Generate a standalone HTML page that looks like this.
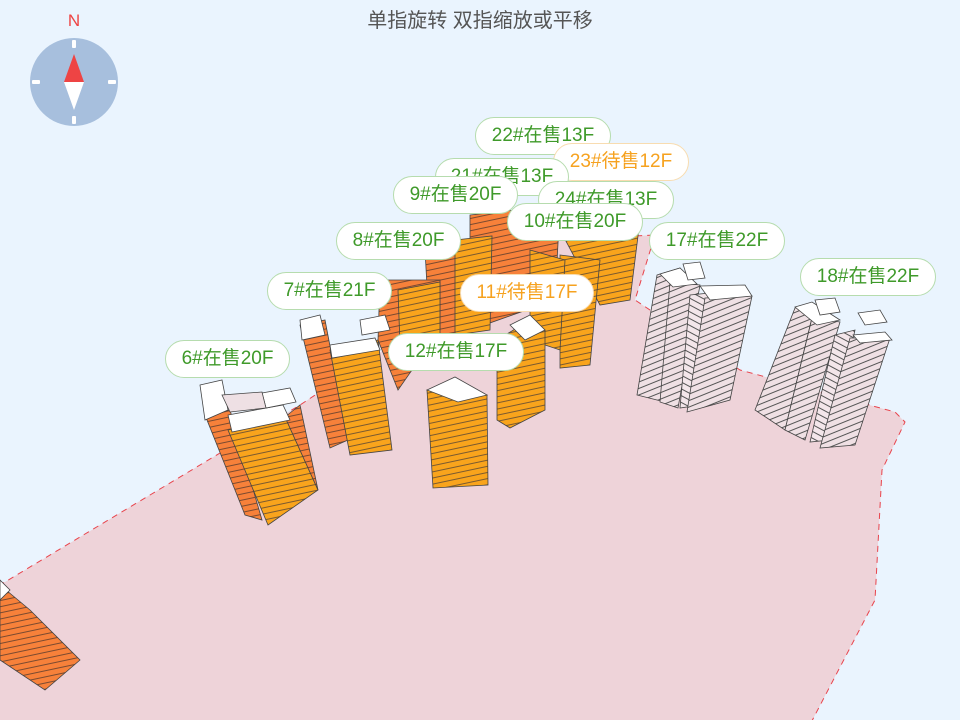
<!DOCTYPE html>
<html><head><meta charset="utf-8"><style>
html,body{margin:0;padding:0;width:960px;height:720px;overflow:hidden;background:#eaf4fe;font-family:"Liberation Sans","Noto Sans CJK SC",sans-serif}
svg{position:absolute;left:0;top:0}
.lb{position:absolute;height:36px;line-height:36px;border:1px solid #b6dcae;background:#fff;border-radius:19px;color:#3f9a2a;font-size:19px;text-align:center;white-space:nowrap}
.or{color:#f6a21f;border-color:#f8dcb0}
</style></head><body>
<svg width="960" height="720" viewBox="0 0 960 720">
<defs>
<pattern id="po" width="20" height="6" patternUnits="userSpaceOnUse" patternTransform="rotate(-12)"><rect width="20" height="6" fill="#f9a41c"/><rect y="5" width="20" height="1" fill="#7a5a30"/></pattern>
<pattern id="pr" width="20" height="6" patternUnits="userSpaceOnUse" patternTransform="rotate(-12)"><rect width="20" height="6" fill="#f7813a"/><rect y="5" width="20" height="1" fill="#7a4a30"/></pattern>
<pattern id="pw" width="20" height="6" patternUnits="userSpaceOnUse" patternTransform="rotate(-22)"><rect width="20" height="6" fill="#efe0e4"/><rect y="5" width="20" height="1" fill="#555"/></pattern>
<pattern id="pw2" width="20" height="6" patternUnits="userSpaceOnUse" patternTransform="rotate(28)"><rect width="20" height="6" fill="#f3e6ea"/><rect y="5" width="20" height="1" fill="#555"/></pattern>
</defs>
<polygon points="-20,597 300,405 550,240 655,235 635,300 740,370 895,412 905,422 882,470 875,600 802,740 -20,740" fill="#eed3d9" stroke="#e8444c" stroke-width="1" stroke-dasharray="6,5"/>
<circle cx="74" cy="82" r="44" fill="#a7bfdd"/>
<rect x="72" y="40" width="4" height="8" fill="#fff" rx="1"/><rect x="72" y="116" width="4" height="8" fill="#fff" rx="1"/>
<rect x="32" y="80" width="8" height="4" fill="#fff" rx="1"/><rect x="108" y="80" width="8" height="4" fill="#fff" rx="1"/>
<polygon points="74,54 64,82 84,82" fill="#ee4444"/><polygon points="74,110 64,82 84,82" fill="#fff"/>
<text x="74" y="26" font-size="17" fill="#ee4444" text-anchor="middle" font-family="Liberation Sans">N</text>
<text x="480" y="27" font-size="20" fill="#555" text-anchor="middle" font-family="Liberation Sans,Noto Sans CJK SC,sans-serif">单指旋转 双指缩放或平移</text>
<g stroke="#444" stroke-width="0.8">
<polygon points="0,585 30,610 80,660 45,690 0,660" fill="url(#pr)"/>
<polygon points="0,580 10,590 0,600" fill="#fff"/>
<polygon points="470,215 560,205 555,300 470,330" fill="url(#pr)"/>
<polygon points="425,250 470,240 470,330 430,340" fill="url(#pr)"/>
<polygon points="455,240 492,236 490,330 455,335" fill="url(#po)"/>
<polygon points="560,230 640,220 630,300 600,305" fill="url(#po)"/>
<polygon points="560,255 600,260 590,365 560,368" fill="url(#po)"/>
<polygon points="530,250 565,260 560,350 530,340" fill="url(#po)"/>
<polygon points="380,280 440,280 440,330 398,390 378,340" fill="url(#pr)"/>
<polygon points="398,290 440,282 440,340 400,345" fill="url(#po)"/>
<polygon points="300,325 325,320 348,440 330,448" fill="url(#pr)"/>
<polygon points="330,350 378,340 392,450 350,455" fill="url(#po)"/>
<polygon points="300,320 320,315 325,335 302,340" fill="#fff"/>
<polygon points="330,345 375,338 380,350 332,358" fill="#fff"/>
<polygon points="360,320 385,315 390,330 362,335" fill="#fff"/>
<polygon points="205,415 230,410 262,520 245,515" fill="url(#pr)"/>
<polygon points="228,430 285,417 318,490 268,525" fill="url(#po)"/>
<polygon points="285,417 300,405 318,490" fill="url(#pr)"/>
<polygon points="200,385 222,380 228,410 205,420" fill="#fff"/>
<polygon points="228,415 283,405 290,420 232,432" fill="#fff"/>
<polygon points="262,393 290,388 296,402 266,408" fill="#fff"/>
<polygon points="222,395 262,392 266,408 230,412" fill="#eee0e4"/>
<polygon points="427,390 487,395 488,485 433,488" fill="url(#po)"/>
<polygon points="427,390 455,377 487,395 458,402" fill="#fff"/>
<polygon points="497,340 530,320 545,330 545,410 510,428 497,420" fill="url(#po)"/>
<polygon points="510,325 530,315 545,330 525,340" fill="#fff"/>
<polygon points="657,275 680,268 665,402 637,395" fill="url(#pw)"/>
<polygon points="670,282 700,285 678,408 660,402" fill="url(#pw)"/>
<polygon points="690,295 720,292 700,405 680,408" fill="url(#pw2)"/>
<polygon points="705,298 752,296 730,400 687,412" fill="url(#pw)"/>
<polygon points="660,274 680,268 697,284 673,287" fill="#fff"/>
<polygon points="700,286 745,285 752,296 710,300" fill="#fff"/>
<polygon points="683,264 700,262 705,278 688,280" fill="#fff"/>
<polygon points="795,308 815,305 785,430 755,410" fill="url(#pw)"/>
<polygon points="812,318 840,322 805,440 785,430" fill="url(#pw)"/>
<polygon points="835,335 855,330 830,440 810,442" fill="url(#pw2)"/>
<polygon points="850,338 890,338 855,445 820,448" fill="url(#pw)"/>
<polygon points="795,307 812,302 840,320 817,325" fill="#fff"/>
<polygon points="853,335 885,332 892,340 860,343" fill="#fff"/>
<polygon points="815,300 835,298 840,312 820,315" fill="#fff"/>
<polygon points="858,313 880,310 887,322 865,325" fill="#fff"/>
</g>
</svg>
<div class="lb" style="left:475px;top:117px;width:134px">22#在售13F</div>
<div class="lb or" style="left:553px;top:143px;width:134px">23#待售12F</div>
<div class="lb" style="left:435px;top:158px;width:132px">21#在售13F</div>
<div class="lb" style="left:538px;top:181px;width:134px">24#在售13F</div>
<div class="lb" style="left:393px;top:176px;width:123px">9#在售20F</div>
<div class="lb" style="left:507px;top:203px;width:134px">10#在售20F</div>
<div class="lb" style="left:649px;top:222px;width:134px">17#在售22F</div>
<div class="lb" style="left:336px;top:222px;width:123px">8#在售20F</div>
<div class="lb" style="left:800px;top:258px;width:134px">18#在售22F</div>
<div class="lb" style="left:267px;top:272px;width:123px">7#在售21F</div>
<div class="lb or" style="left:460px;top:274px;width:132px">11#待售17F</div>
<div class="lb" style="left:388px;top:333px;width:134px">12#在售17F</div>
<div class="lb" style="left:165px;top:340px;width:123px">6#在售20F</div>
</body></html>
